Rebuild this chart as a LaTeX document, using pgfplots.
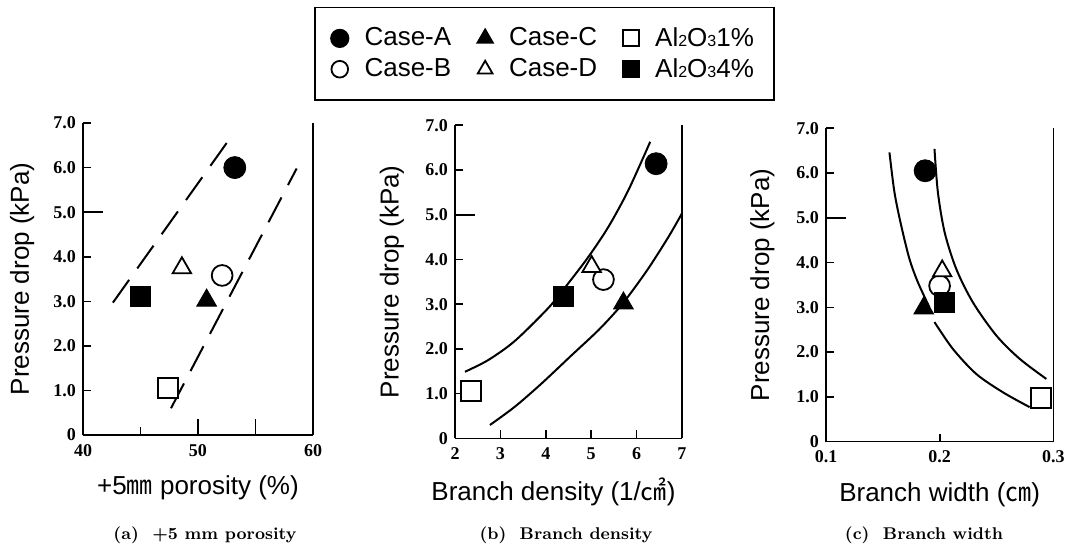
\documentclass[border=0pt]{standalone}
\usepackage{fontspec}
\usepackage{graphicx}
\usepackage{pgfplots}
\pgfplotsset{compat=1.18}
\newfontfamily\lab{Liberation Sans}
\newfontfamily\tkf{Liberation Serif}
\newfontfamily\cjk{Noto Sans CJK JP}

\pgfplotsset{
  panel/.style={
    scale only axis,
    anchor=south west,
    axis x line=bottom, axis y line=left,
    axis line style={-, line width=0.8pt, black},
    tick align=inside,
    major tick length=4pt,
    tick style={line width=0.8pt, black},
    ymin=0, ymax=7,
    ytick={0,1,2,3,4,5,6,7},
    yticklabels={0,1.0,2.0,3.0,4.0,5.0,6.0,7.0},
    extra y ticks={5}, extra y tick labels={},
    extra y tick style={major tick length=10pt},
    tick label style={font=\tkf\fontsize{9}{10}\selectfont\bfseries},
    /pgf/number format/assume math mode=true,
    xticklabel style={yshift=-1pt},
    label style={font=\lab\fontsize{13}{15}\selectfont},
    clip=false,
  },
  mA/.style={only marks, mark=*, mark size=5.5pt, mark options={fill=black, draw=black}},
  mB/.style={only marks, mark=*, mark size=5.2pt, mark options={fill=white, draw=black, line width=0.9pt}},
  mC/.style={only marks, mark=triangle*, mark size=5.7pt, mark options={fill=black, draw=black}},
  mD/.style={only marks, mark=triangle*, mark size=5.3pt, mark options={fill=white, draw=black, line width=0.9pt}},
  mE/.style={only marks, mark=square*, mark size=5pt, mark options={fill=white, draw=black, line width=0.9pt}},
  mF/.style={only marks, mark=square*, mark size=5pt, mark options={fill=black, draw=black}},
  curve/.style={black, line width=1pt, smooth, forget plot},
}

\begin{document}
\begin{tikzpicture}
\useasboundingbox (0,0) rectangle (535.5pt,-274pt);

% ---------------- (a) ----------------
\begin{axis}[panel,
  at={(41.5pt,-217.5pt)}, width=115pt, height=156pt,
  xmin=40, xmax=60,
  xtick={40,45,50,60}, xticklabels={40,,50,60},
  extra x ticks={50,55}, extra x tick labels={},
  extra x tick style={major tick length=8pt},
  xlabel={+5{\cjk ㎜} porosity (\%)},
  ylabel={Pressure drop (kPa)},
  xlabel style={at={(axis description cs:0.5,-0.17)}, anchor=center},
  ylabel style={at={(axis description cs:-0.265,0.5)}, anchor=center},
]
\draw[line width=0.8pt] (rel axis cs:1,0) -- (rel axis cs:1,1);
\addplot[black, line width=1pt, dash pattern=on 14pt off 7pt, forget plot] coordinates {(42.6,2.97) (53.07,6.76)};
\addplot[black, line width=1pt, dash pattern=on 14pt off 7pt, forget plot] coordinates {(47.65,0.6) (58.58,5.98)};
\addplot[mA] coordinates {(53.2,6.0)};
\addplot[mC] coordinates {(50.75,3.02)};
\addplot[mE] coordinates {(47.4,1.05)};
\addplot[mB] coordinates {(52.1,3.58)};
\addplot[mD] coordinates {(48.6,3.75)};
\addplot[mF] coordinates {(45.0,3.1)};
\end{axis}

% ---------------- (b) ----------------
\begin{axis}[panel,
  at={(227.5pt,-219.2pt)}, width=113.5pt, height=156.6pt,
  xmin=2, xmax=7,
  xtick={2,3,4,5,6,7}, xticklabels={2,3,4,5,6,7},
  xlabel={Branch density (1/{\cjk ㎠})},
  ylabel={Pressure drop (kPa)},
  xlabel style={at={(axis description cs:0.434,-0.17)}, anchor=center},
  ylabel style={at={(axis description cs:-0.278,0.5)}, anchor=center},
  legend columns=3,
  legend cell align=left,
  legend image post style={mark size=0.8*\pgfplotmarksize},
  legend style={at={(axis description cs:0.394,1.228)}, anchor=center,
    draw=black, line width=0.8pt, font=\lab\fontsize{13}{15}\selectfont,
    /tikz/every odd column/.append style={column sep=6pt},
    /tikz/every even column/.append style={column sep=11pt},
    nodes={inner ysep=1pt},
    inner xsep=8pt, inner ysep=9pt, row sep=2.5pt},
]
\draw[line width=0.8pt] (rel axis cs:1,0) -- (rel axis cs:1,1);
\addplot[curve] coordinates {(2.22,1.49) (2.73,1.75) (3.32,2.18) (4.06,2.92) (4.46,3.42) (4.94,4.06) (5.38,4.73) (5.82,5.55) (6.30,6.63)};
\addplot[curve] coordinates {(2.77,0.30) (3.32,0.71) (3.91,1.23) (4.57,1.86) (5.16,2.42) (5.60,2.9) (5.85,3.22) (6.26,3.8) (6.70,4.5) (7.0,5.03)};
\addplot[mA] coordinates {(6.43,6.14)};
\addlegendentry{Case-A}
\addplot[mC] coordinates {(5.71,3.02)};
\addlegendentry{Case-C}
\addplot[mE] coordinates {(2.35,1.06)};
\addlegendentry{Al{\footnotesize 2}O{\footnotesize 3}1\%}
\addplot[mB] coordinates {(5.27,3.55)};
\addlegendentry{Case-B}
\addplot[mD] coordinates {(5.01,3.84)};
\addlegendentry{Case-D}
\addplot[mF] coordinates {(4.39,3.18)};
\addlegendentry{Al{\footnotesize 2}O{\footnotesize 3}4\%}
\end{axis}

% ---------------- (c) ----------------
\begin{axis}[panel,
  at={(413pt,-220.8pt)}, width=113.7pt, height=156.7pt,
  xmin=0.1, xmax=0.3,
  xtick={0.1,0.2,0.3}, xticklabels={0.1,0.2,0.3},
  xlabel={Branch width ({\cjk ㎝})},
  ylabel={Pressure drop (kPa)},
  xlabel style={at={(axis description cs:0.5,-0.17)}, anchor=center},
  ylabel style={at={(axis description cs:-0.28,0.5)}, anchor=center},
]
\draw[line width=0.8pt] (rel axis cs:1,0) -- (rel axis cs:1,1);
\addplot[curve] coordinates {(0.1558,6.46) (0.1602,5.57) (0.1661,4.83) (0.1734,4.08) (0.1808,3.56) (0.1910,3.0)};
\addplot[curve] coordinates {(0.1954,2.67) (0.2116,2.07) (0.2322,1.51) (0.2557,1.10) (0.2791,0.77)};
\addplot[curve] coordinates {(0.1954,6.54) (0.1984,5.57) (0.2043,4.68) (0.2145,3.86) (0.2292,3.11) (0.2498,2.37) (0.2703,1.85) (0.2938,1.40)};
\addplot[mA] coordinates {(0.1872,6.05)};
\addplot[mC] coordinates {(0.186,2.98)};
\addplot[mE] coordinates {(0.2894,0.97)};
\addplot[mB] coordinates {(0.1999,3.48)};
\addplot[mD] coordinates {(0.2022,3.81)};
\addplot[mF] coordinates {(0.2043,3.10)};
\end{axis}

% captions
\node[font=\bfseries\fontsize{8.5}{10}\selectfont] at (102.5pt,-267.5pt) {(a)\ \ +5 mm porosity};
\node[font=\bfseries\fontsize{8.5}{10}\selectfont] at (283pt,-267.5pt) {(b)\ \ Branch density};
\node[font=\bfseries\fontsize{8.5}{10}\selectfont] at (462pt,-267.5pt) {(c)\ \ Branch width};
\end{tikzpicture}
\end{document}
